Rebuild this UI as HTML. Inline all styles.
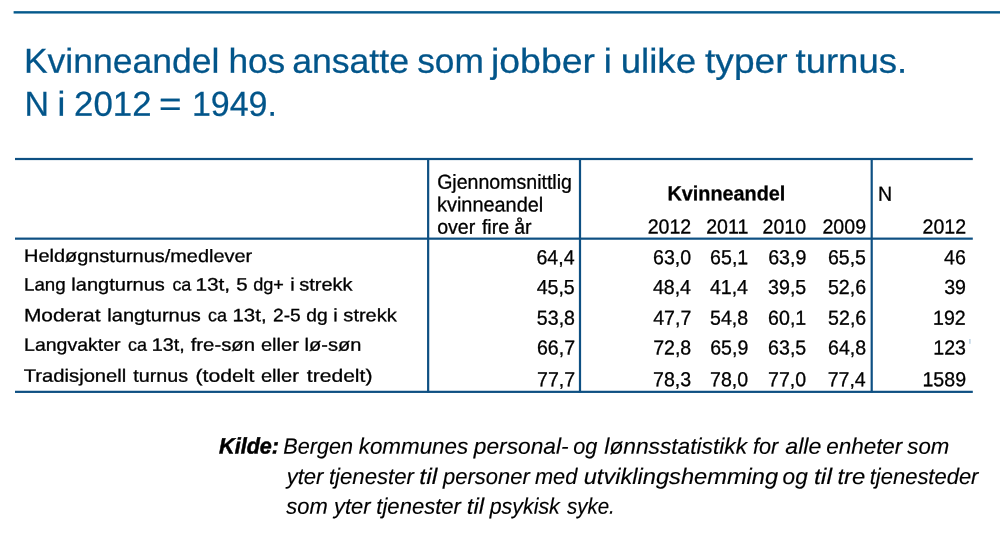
<!DOCTYPE html>
<html lang="no">
<head>
<meta charset="utf-8">
<title>Kvinneandel hos ansatte som jobber i ulike typer turnus</title>
<style>
*{margin:0;padding:0;box-sizing:border-box}
html,body{width:1000px;height:533px;background:#fff;overflow:hidden}
body{position:relative;font-family:"Liberation Sans",sans-serif;color:#000}
h1,p,table,thead,tbody,tr,th,td,div{font:inherit;display:block}
.x{position:absolute;left:0;top:0;white-space:nowrap;transform-origin:0 0;display:block;line-height:1;text-rendering:geometricPrecision}
.b{font-weight:bold}
.rules{position:absolute;left:0;top:0;display:block}
.t{font-size:34.6px;color:#02558a;-webkit-text-stroke:0.25px #02558a;}
.h{font-size:20.3px;color:#000000;-webkit-text-stroke:0.3px #000000;}
.l{font-size:17.9px;color:#000000;-webkit-text-stroke:0.3px #000000;}
.n{font-size:20.3px;color:#000000;-webkit-text-stroke:0.3px #000000;}
.k{font-size:22.3px;color:#000000;font-weight:bold;font-style:italic;-webkit-text-stroke:0.5px #000000;}
.f{font-size:22.3px;color:#000000;font-style:italic;-webkit-text-stroke:0.15px #000000;}
</style>
</head>
<body>
<svg class="rules" width="1000" height="533" viewBox="0 0 1000 533" aria-hidden="true">
<rect x="13.6" y="11.15" width="986.4" height="2.4" fill="#04598c"/>
<rect x="15.0" y="157.9" width="957.8" height="2.2" fill="#0e5083"/>
<rect x="15.0" y="237.55" width="957.8" height="2.2" fill="#0e5083"/>
<rect x="15.0" y="390.75" width="957.8" height="2.2" fill="#0e5083"/>
<rect x="427.05" y="158.5" width="2.2" height="234" fill="#0e5083"/>
<rect x="578.9" y="158.5" width="2.2" height="234" fill="#0e5083"/>
<rect x="870.6" y="158.5" width="2.2" height="234" fill="#0e5083"/>
<rect x="969.2" y="339" width="1.4" height="4.8" fill="#b9cfe0"/>
</svg>
<h1><span class="x t" style="transform:translate(23.91px,44.74px) scaleX(1.0272) rotate(.03deg);">Kvinneandel</span> <span class="x t" style="transform:translate(228.39px,44.74px) scaleX(1.0198) rotate(.03deg);">hos</span> <span class="x t" style="transform:translate(292.15px,44.74px) scaleX(1.0300) rotate(.03deg);">ansatte</span> <span class="x t" style="transform:translate(417.17px,44.74px) scaleX(1.0194) rotate(.03deg);">som</span> <span class="x t" style="transform:translate(491.01px,44.74px) scaleX(1.0819) rotate(.03deg);">jobber</span> <span class="x t" style="transform:translate(603.74px,44.74px) scaleX(1.0462) rotate(.03deg);">i</span> <span class="x t" style="transform:translate(620.69px,44.74px) scaleX(1.0601) rotate(.03deg);">ulike</span> <span class="x t" style="transform:translate(705.05px,44.74px) scaleX(1.0727) rotate(.03deg);">typer</span> <span class="x t" style="transform:translate(795.50px,44.74px) scaleX(1.0562) rotate(.03deg);">turnus.</span>
<span class="x t" style="transform:translate(24.41px,87.74px) scaleX(0.9814) rotate(.03deg);">N</span> <span class="x t" style="transform:translate(57.54px,87.74px) scaleX(1.0156) rotate(.03deg);">i</span> <span class="x t" style="transform:translate(74.08px,87.74px) scaleX(1.0067) rotate(.03deg);">2012</span> <span class="x t" style="transform:translate(158.94px,87.74px) scaleX(1.1172) rotate(.03deg);">=</span> <span class="x t" style="transform:translate(191.99px,87.74px) scaleX(0.9811) rotate(.03deg);">1949.</span></h1>
<table>
<thead>
<tr><th></th><th><span class="x h" style="transform:translate(437.17px,172.65px) scaleX(0.9642) rotate(.03deg);">Gjennomsnittlig</span>
<span class="x h" style="transform:translate(437.00px,195.35px) scaleX(0.9818) rotate(.03deg);">kvinneandel</span>
<span class="x h" style="transform:translate(437.16px,217.65px) scaleX(0.9650) rotate(.03deg);">over</span> <span class="x h" style="transform:translate(481.90px,217.65px) scaleX(0.9650) rotate(.03deg);">fire</span> <span class="x h" style="transform:translate(514.16px,217.65px) scaleX(0.9650) rotate(.03deg);">år</span></th><th><span class="x h b" style="transform:translate(667.53px,184.25px) scaleX(0.9770) rotate(.03deg);">Kvinneandel</span></th><th><span class="x h" style="transform:translate(878.09px,184.75px) scaleX(0.9650) rotate(.03deg);">N</span></th></tr>
<tr><th></th><th></th><th><span class="x h" style="transform:translate(647.68px,217.45px) scaleX(0.9650) rotate(.03deg);">2012</span></th><th><span class="x h" style="transform:translate(706.23px,217.45px) scaleX(0.9650) rotate(.03deg);">2011</span></th><th><span class="x h" style="transform:translate(762.60px,217.45px) scaleX(0.9650) rotate(.03deg);">2010</span></th><th><span class="x h" style="transform:translate(822.48px,217.45px) scaleX(0.9650) rotate(.03deg);">2009</span></th><th><span class="x h" style="transform:translate(922.53px,217.45px) scaleX(0.9650) rotate(.03deg);">2012</span></th></tr>
</thead>
<tbody>
<tr><th><span class="x l" style="transform:translate(24.09px,247.85px) scaleX(1.1137) rotate(.03deg);">Heldøgnsturnus/medlever</span></th><td><span class="x n" style="transform:translate(536.45px,248.25px) scaleX(0.9650) rotate(.03deg);">64,4</span></td><td><span class="x n" style="transform:translate(653.09px,248.25px) scaleX(0.9650) rotate(.03deg);">63,0</span></td><td><span class="x n" style="transform:translate(710.13px,248.25px) scaleX(0.9650) rotate(.03deg);">65,1</span></td><td><span class="x n" style="transform:translate(768.21px,248.25px) scaleX(0.9650) rotate(.03deg);">63,9</span></td><td><span class="x n" style="transform:translate(827.92px,248.25px) scaleX(0.9650) rotate(.03deg);">65,5</span></td><td><span class="x n" style="transform:translate(944.05px,248.25px) scaleX(0.9650) rotate(.03deg);">46</span></td></tr>
<tr><th><span class="x l" style="transform:translate(24.02px,276.45px) scaleX(1.0469) rotate(.03deg);">Lang</span> <span class="x l" style="transform:translate(71.35px,276.45px) scaleX(1.1188) rotate(.03deg);">langturnus</span> <span class="x l" style="transform:translate(172.39px,276.45px) scaleX(1.0035) rotate(.03deg);">ca</span> <span class="x l" style="transform:translate(195.39px,276.45px) scaleX(1.1650) rotate(.03deg);">13t,</span> <span class="x l" style="transform:translate(236.30px,276.45px) scaleX(1.1435) rotate(.03deg);">5</span> <span class="x l" style="transform:translate(253.15px,276.45px) scaleX(1.0122) rotate(.03deg);">dg+</span> <span class="x l" style="transform:translate(290.28px,276.45px) scaleX(1.1150) rotate(.03deg);">i</span> <span class="x l" style="transform:translate(299.22px,276.45px) scaleX(1.1158) rotate(.03deg);">strekk</span></th><td><span class="x n" style="transform:translate(536.65px,278.05px) scaleX(0.9650) rotate(.03deg);">45,5</span></td><td><span class="x n" style="transform:translate(652.91px,278.05px) scaleX(0.9650) rotate(.03deg);">48,4</span></td><td><span class="x n" style="transform:translate(709.91px,278.05px) scaleX(0.9650) rotate(.03deg);">41,4</span></td><td><span class="x n" style="transform:translate(768.13px,278.05px) scaleX(0.9650) rotate(.03deg);">39,5</span></td><td><span class="x n" style="transform:translate(827.97px,278.05px) scaleX(0.9650) rotate(.03deg);">52,6</span></td><td><span class="x n" style="transform:translate(944.23px,278.05px) scaleX(0.9650) rotate(.03deg);">39</span></td></tr>
<tr><th><span class="x l" style="transform:translate(23.89px,307.15px) scaleX(1.1675) rotate(.03deg);">Moderat</span> <span class="x l" style="transform:translate(107.35px,307.15px) scaleX(1.1188) rotate(.03deg);">langturnus</span> <span class="x l" style="transform:translate(208.10px,307.15px) scaleX(1.0035) rotate(.03deg);">ca</span> <span class="x l" style="transform:translate(232.48px,307.15px) scaleX(1.1428) rotate(.03deg);">13t,</span> <span class="x l" style="transform:translate(273.00px,307.15px) scaleX(1.0699) rotate(.03deg);">2-5</span> <span class="x l" style="transform:translate(306.29px,307.15px) scaleX(1.0737) rotate(.03deg);">dg</span> <span class="x l" style="transform:translate(333.28px,307.15px) scaleX(1.1150) rotate(.03deg);">i</span> <span class="x l" style="transform:translate(343.37px,307.15px) scaleX(1.1201) rotate(.03deg);">strekk</span></th><td><span class="x n" style="transform:translate(536.88px,308.85px) scaleX(0.9650) rotate(.03deg);">53,8</span></td><td><span class="x n" style="transform:translate(653.18px,308.85px) scaleX(0.9650) rotate(.03deg);">47,7</span></td><td><span class="x n" style="transform:translate(710.10px,308.85px) scaleX(0.9650) rotate(.03deg);">54,8</span></td><td><span class="x n" style="transform:translate(768.13px,308.85px) scaleX(0.9650) rotate(.03deg);">60,1</span></td><td><span class="x n" style="transform:translate(828.13px,308.85px) scaleX(0.9650) rotate(.03deg);">52,6</span></td><td><span class="x n" style="transform:translate(933.06px,308.85px) scaleX(0.9650) rotate(.03deg);">192</span></td></tr>
<tr><th><span class="x l" style="transform:translate(24.09px,336.75px) scaleX(1.0893) rotate(.03deg);">Langvakter</span> <span class="x l" style="transform:translate(127.93px,336.75px) scaleX(1.0035) rotate(.03deg);">ca</span> <span class="x l" style="transform:translate(151.69px,336.75px) scaleX(1.1060) rotate(.03deg);">13t,</span> <span class="x l" style="transform:translate(190.68px,336.75px) scaleX(1.1369) rotate(.03deg);">fre-søn</span> <span class="x l" style="transform:translate(260.98px,336.75px) scaleX(1.1197) rotate(.03deg);">eller</span> <span class="x l" style="transform:translate(304.59px,336.75px) scaleX(1.1197) rotate(.03deg);">lø-søn</span></th><td><span class="x n" style="transform:translate(536.99px,338.45px) scaleX(0.9650) rotate(.03deg);">66,7</span></td><td><span class="x n" style="transform:translate(653.17px,338.45px) scaleX(0.9650) rotate(.03deg);">72,8</span></td><td><span class="x n" style="transform:translate(710.21px,338.45px) scaleX(0.9650) rotate(.03deg);">65,9</span></td><td><span class="x n" style="transform:translate(768.13px,338.45px) scaleX(0.9650) rotate(.03deg);">63,5</span></td><td><span class="x n" style="transform:translate(828.00px,338.45px) scaleX(0.9650) rotate(.03deg);">64,8</span></td><td><span class="x n" style="transform:translate(933.29px,338.45px) scaleX(0.9650) rotate(.03deg);">123</span></td></tr>
<tr><th><span class="x l" style="transform:translate(23.77px,367.75px) scaleX(1.1293) rotate(.03deg);">Tradisjonell</span> <span class="x l" style="transform:translate(133.28px,367.75px) scaleX(1.1010) rotate(.03deg);">turnus</span> <span class="x l" style="transform:translate(195.54px,367.75px) scaleX(1.1812) rotate(.03deg);">(todelt</span> <span class="x l" style="transform:translate(260.98px,367.75px) scaleX(1.1197) rotate(.03deg);">eller</span> <span class="x l" style="transform:translate(306.88px,367.75px) scaleX(1.1766) rotate(.03deg);">tredelt)</span></th><td><span class="x n" style="transform:translate(537.03px,370.25px) scaleX(0.9650) rotate(.03deg);">77,7</span></td><td><span class="x n" style="transform:translate(653.10px,370.25px) scaleX(0.9650) rotate(.03deg);">78,3</span></td><td><span class="x n" style="transform:translate(710.09px,370.25px) scaleX(0.9650) rotate(.03deg);">78,0</span></td><td><span class="x n" style="transform:translate(768.09px,370.25px) scaleX(0.9650) rotate(.03deg);">77,0</span></td><td><span class="x n" style="transform:translate(827.65px,370.25px) scaleX(0.9650) rotate(.03deg);">77,4</span></td><td><span class="x n" style="transform:translate(922.49px,370.25px) scaleX(0.9650) rotate(.03deg);">1589</span></td></tr>
</tbody>
</table>
<p><span class="x k" style="transform:translate(219.12px,435.55px) scaleX(0.9668) rotate(.03deg);">Kilde:</span>
<span class="x f" style="transform:translate(283.36px,435.80px) scaleX(0.9673) rotate(.03deg);">Bergen</span> <span class="x f" style="transform:translate(358.71px,435.80px) scaleX(1.0038) rotate(.03deg);">kommunes</span> <span class="x f" style="transform:translate(473.88px,435.80px) scaleX(1.0180) rotate(.03deg);">personal-</span> <span class="x f" style="transform:translate(573.26px,435.80px) scaleX(0.9724) rotate(.03deg);">og</span> <span class="x f" style="transform:translate(604.38px,435.80px) scaleX(1.0191) rotate(.03deg);">lønnsstatistikk</span> <span class="x f" style="transform:translate(753.04px,435.80px) scaleX(0.9725) rotate(.03deg);">for</span> <span class="x f" style="transform:translate(785.27px,435.80px) scaleX(1.0389) rotate(.03deg);">alle</span> <span class="x f" style="transform:translate(826.17px,435.80px) scaleX(1.0074) rotate(.03deg);">enheter</span> <span class="x f" style="transform:translate(907.38px,435.80px) scaleX(0.9956) rotate(.03deg);">som</span>
<span class="x f" style="transform:translate(286.66px,465.90px) scaleX(0.9906) rotate(.03deg);">yter</span> <span class="x f" style="transform:translate(328.94px,465.90px) scaleX(0.9939) rotate(.03deg);">tjenester</span> <span class="x f" style="transform:translate(419.35px,465.90px) scaleX(1.1240) rotate(.03deg);">til</span> <span class="x f" style="transform:translate(443.11px,465.90px) scaleX(0.9846) rotate(.03deg);">personer</span> <span class="x f" style="transform:translate(535.01px,465.90px) scaleX(0.9755) rotate(.03deg);">med</span> <span class="x f" style="transform:translate(583.69px,465.90px) scaleX(1.0602) rotate(.03deg);">utviklingshemming</span> <span class="x f" style="transform:translate(782.63px,465.90px) scaleX(1.0143) rotate(.03deg);">og</span> <span class="x f" style="transform:translate(813.89px,465.90px) scaleX(1.1240) rotate(.03deg);">til</span> <span class="x f" style="transform:translate(837.45px,465.90px) scaleX(1.0699) rotate(.03deg);">tre</span> <span class="x f" style="transform:translate(869.75px,465.90px) scaleX(0.9853) rotate(.03deg);">tjenesteder</span>
<span class="x f" style="transform:translate(286.28px,495.80px) scaleX(0.9833) rotate(.03deg);">som</span> <span class="x f" style="transform:translate(334.08px,495.80px) scaleX(0.9829) rotate(.03deg);">yter</span> <span class="x f" style="transform:translate(376.35px,495.80px) scaleX(0.9892) rotate(.03deg);">tjenester</span> <span class="x f" style="transform:translate(466.83px,495.80px) scaleX(1.0759) rotate(.03deg);">til</span> <span class="x f" style="transform:translate(489.68px,495.80px) scaleX(0.9591) rotate(.03deg);">psykisk</span> <span class="x f" style="transform:translate(566.96px,495.80px) scaleX(0.9187) rotate(.03deg);">syke.</span></p>
</body>
</html>
